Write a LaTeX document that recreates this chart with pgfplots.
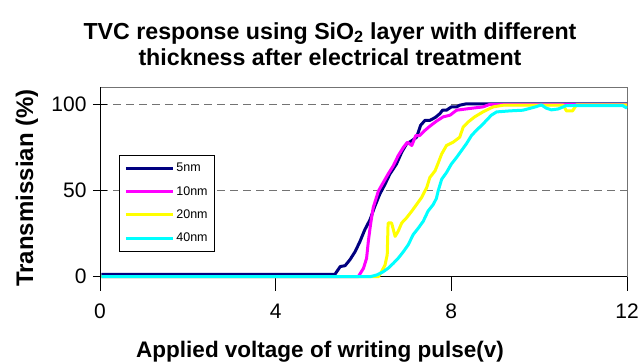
\documentclass[border=0pt]{standalone}
\usepackage{fontspec}
\setmainfont{Liberation Sans}
\usepackage{pgfplots}
\pgfplotsset{compat=1.18}
\definecolor{cnavy}{RGB}{0,0,128}
\definecolor{cmag}{RGB}{255,0,255}
\definecolor{cyel}{RGB}{255,255,0}
\definecolor{ccyan}{RGB}{0,255,255}
\begin{document}
\begin{tikzpicture}[x=1pt,y=1pt]
\path[use as bounding box] (0,0) rectangle (642,362);
\node[font=\fontsize{23.2}{26.5}\selectfont\bfseries, align=center] at (330,318) {TVC response using SiO\textsubscript{2} layer with different\\thickness after electrical treatment};
\node[font=\fontsize{22.5}{26}\selectfont\bfseries] at (320,10) {Applied voltage of writing pulse(v)};
\node[font=\fontsize{24}{26}\selectfont\bfseries, rotate=90] at (27,174) {Transmissian (\%)};
\begin{axis}[
  at={(100pt,85.3pt)}, anchor=south west,
  scale only axis, width=527pt, height=189.4pt,
  xmin=0, xmax=12, ymin=0, ymax=110,
  xtick={0,4,8,12}, ytick={0,50,100},
  axis line style={draw=gray!90!black, line width=1pt},
  ymajorgrids, grid style={gray!90!black, dash pattern=on 8pt off 5pt, line width=0.8pt},
  xtick style={black, line width=0.8pt}, ytick style={black, line width=0.8pt},
  xtick pos=bottom, ytick pos=left,
  xtick align=outside, ytick align=center,
  major tick length=14pt,
  /pgf/number format/assume math mode=true,
  tick label style={font=\fontsize{21}{21}\selectfont},
  xticklabel style={yshift=-10pt},
  yticklabel style={xshift=-3pt},
  clip=false,
  legend style={at={(axis description cs:0.036,0.6426)}, anchor=north west,
    draw=black, line width=0.8pt, font=\fontsize{12.5}{12.5}\selectfont,
    row sep=9pt, inner xsep=5pt, inner ysep=6pt},
  legend cell align=left,
  legend image code/.code={\draw[#1, line width=3pt] (0pt,0pt) -- (47pt,0pt);},
  every axis plot/.append style={line width=3pt, line join=round},
]
\draw[black, line width=1pt] (rel axis cs:0,1) -- (rel axis cs:0,0) -- (rel axis cs:1,0);
\addplot[cnavy] coordinates {
(0.03,1.4) (5.35,1.4) (5.47,5.9) (5.58,6.4) (5.69,9.8) (5.81,14.6) (5.92,20.5)
(6.03,27.3) (6.15,33.2) (6.26,41) (6.37,47.9) (6.49,53.7) (6.60,59.6) (6.75,65.4)
(6.87,72.3) (6.98,77.1) (7.10,79) (7.21,81) (7.30,87.9) (7.40,90.8) (7.51,90.8)
(7.63,92.4) (7.74,94.7) (7.80,96.7) (7.89,96.7) (8.0,98.6) (8.12,98.6) (8.19,99.6)
(8.34,100.4) (9.5,100.4) (12,100.4)};
\addlegendentry{5nm}
\addplot[cmag] coordinates {
(0.03,0) (5.88,0) (6.0,4.9) (6.07,10.7) (6.11,20.5) (6.16,30.3) (6.22,40) (6.34,49.8)
(6.45,54.7) (6.56,59.6) (6.68,64.5) (6.79,70.3) (6.91,75.2) (7.0,78.1) (7.1,76.2)
(7.19,82) (7.28,82) (7.40,85) (7.51,87.4) (7.66,90.3) (7.81,92.8) (7.97,93.8)
(8.12,96.7) (8.42,97.7) (8.72,98.6) (8.87,100) (10,100) (12,100)};
\addlegendentry{10nm}
\addplot[cyel] coordinates {
(0.03,0) (6.34,0) (6.41,2.9) (6.49,6.8) (6.54,12.7) (6.56,31.2) (6.64,31.2)
(6.72,23.4) (6.79,26.4) (6.87,31.2) (6.98,34.2) (7.10,38.1) (7.21,42) (7.32,45.9)
(7.44,51.8) (7.51,57.6) (7.63,61.5) (7.70,66) (7.78,71.3) (7.89,76.2) (8.04,78.1)
(8.19,81) (8.27,86.9) (8.38,89.8) (8.53,92.8) (8.72,95.7) (8.95,98.6) (9.18,99.6)
(9.5,99.6) (10.55,99.6) (10.62,96.3) (10.76,96.3) (10.85,99.8) (12,99.8)};
\addlegendentry{20nm}
\addplot[ccyan] coordinates {
(0.03,0) (6.15,0) (6.30,1) (6.45,2.9) (6.56,4.9) (6.68,7.8) (6.79,10.7) (6.91,14.6)
(7.02,18.6) (7.13,24.4) (7.25,28.3) (7.36,32.2) (7.47,38.1) (7.59,42) (7.66,45.5)
(7.70,49.8) (7.78,56.6) (7.89,60.5) (8.0,65.4) (8.12,69.3) (8.23,73.2) (8.34,77.1)
(8.46,82) (8.57,85) (8.69,87.9) (8.80,90.8) (8.91,93.8) (9.03,95.7) (9.33,96.3)
(9.63,96.7) (9.78,97.7) (9.94,98.8) (10.05,99.8) (10.16,97.9) (10.28,96.9)
(10.43,97.4) (10.62,99.4) (11.9,99.4) (12,97.9)};
\addlegendentry{40nm}
\end{axis}
\end{tikzpicture}
\end{document}
